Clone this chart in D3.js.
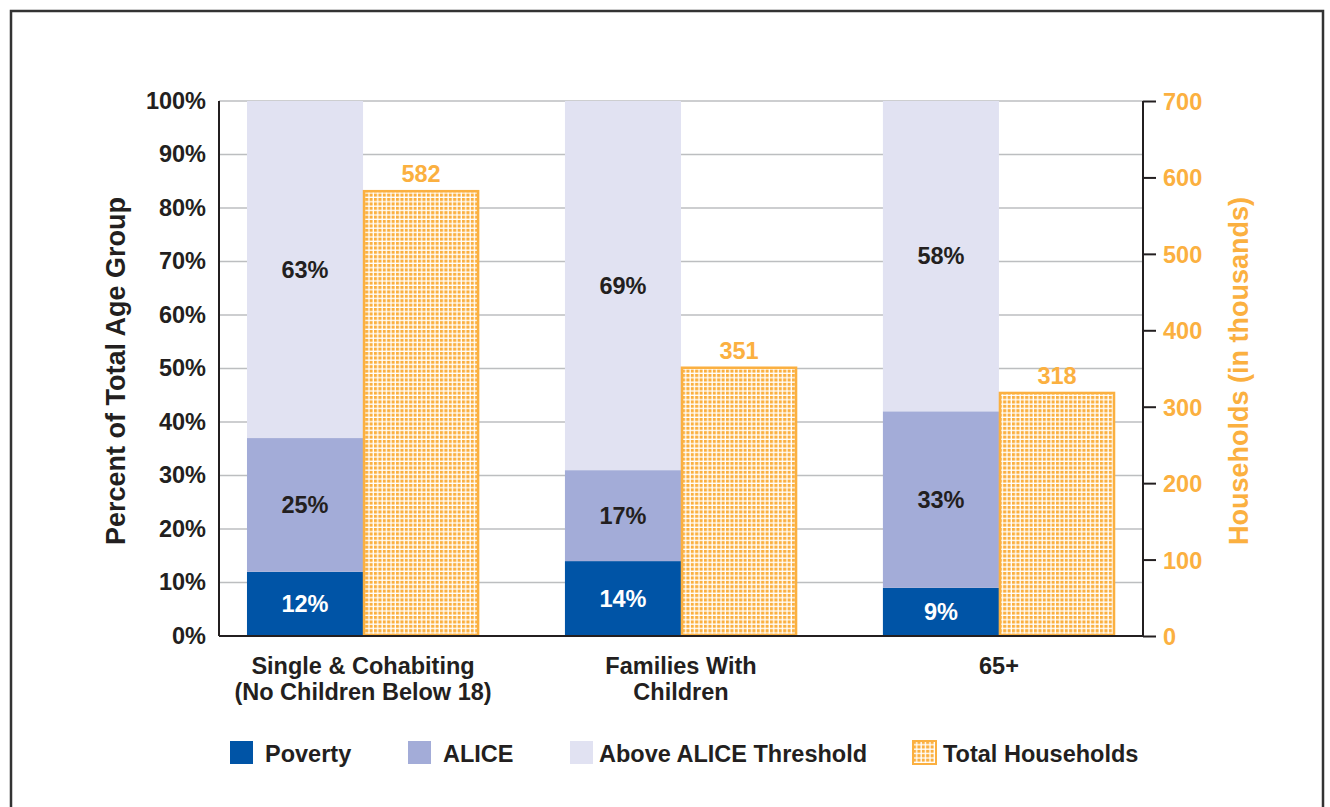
<!DOCTYPE html>
<html lang="en">
<head>
  <meta charset="UTF-8">
  <title>ALICE households by type</title>
  <script src="https://d3js.org/d3.v7.min.js"></script>
  <style>
    body { margin: 0; background: #fff; }
    text { font-family: "Liberation Sans", Arial, sans-serif; font-weight: bold; }
  </style>
</head>
<body>
  <svg width="1330" height="807"></svg>
<script>
// data
var groups = ["Single & Cohabiting|(No Children Below 18)", "Families With|Children", "65+"];
var poverty = [12, 14, 9];
var alice = [25, 17, 33];
var above = [63, 69, 58];
var totals = [582, 351, 318];
var pctTicks = [0, 10, 20, 30, 40, 50, 60, 70, 80, 90, 100];
var hhTicks = [0, 100, 200, 300, 400, 500, 600, 700];

var colors = { poverty: "#0054a6", alice: "#a3acd8", above: "#e1e2f2", orange: "#fbb040", ink: "#231f20" };
var fs = 23.5;

var svg = d3.select("svg");

// outer frame
svg.append("rect")
  .attr("x", 11).attr("y", 11).attr("width", 1312).attr("height", 810)
  .attr("fill", "none").attr("stroke", "#333").attr("stroke-width", 2.5);

// dotted pattern for total households
var defs = svg.append("defs");
var pat = defs.append("pattern").attr("id", "dots")
  .attr("patternUnits", "userSpaceOnUse").attr("width", 4.4).attr("height", 4.4);
pat.append("rect").attr("width", 4.4).attr("height", 4.4).attr("fill", "#fff");
pat.append("rect").attr("x", 0).attr("y", 0).attr("width", 3.1).attr("height", 3.1).attr("fill", colors.orange);

var pLeft = 219, pRight = 1143, pTop = 101, pBottom = 636;

var x = d3.scaleBand().domain(groups).range([pLeft, pRight]).paddingInner(0.27).paddingOuter(0.088);
var y = d3.scaleLinear().domain([0, 100]).range([pBottom, pTop]);
var y2 = d3.scaleLinear().domain([0, 700]).range([pBottom, pTop]);

// gridlines
svg.append("g").selectAll("line").data(pctTicks.slice(1)).join("line")
  .attr("x1", pLeft).attr("x2", pRight)
  .attr("y1", function(d) { return y(d); }).attr("y2", function(d) { return y(d); })
  .attr("stroke", "#bcbec0").attr("stroke-width", 1.5);

// stacked bars
var rows = groups.map(function(g, i) {
  return { group: g, poverty: poverty[i], alice: alice[i], above: above[i], total: totals[i] };
});
var keys = ["poverty", "alice", "above"];
var stack = d3.stack().keys(keys)(rows);
var half = x.bandwidth() / 2;

var layers = svg.append("g").selectAll("g").data(stack).join("g")
  .attr("fill", function(d) { return colors[d.key]; });
layers.selectAll("rect").data(function(d) { return d; }).join("rect")
  .attr("x", function(d) { return x(d.data.group); })
  .attr("width", half)
  .attr("y", function(d) { return y(d[1]); })
  .attr("height", function(d) { return y(d[0]) - y(d[1]); });

layers.selectAll("text").data(function(d) { return d.map(function(v) { v.key = d.key; return v; }); }).join("text")
  .attr("x", function(d) { return x(d.data.group) + half / 2; })
  .attr("y", function(d) { return y((d[0] + d[1]) / 2) + 8; })
  .attr("text-anchor", "middle")
  .attr("font-size", fs)
  .attr("fill", function(d) { return d.key === "poverty" ? "#fff" : colors.ink; })
  .text(function(d) { return d.data[d.key] + "%"; });

// total households bars
svg.append("g").selectAll("rect").data(rows).join("rect")
  .attr("x", function(d) { return x(d.group) + half + 1; })
  .attr("width", half - 2)
  .attr("y", function(d) { return y2(d.total); })
  .attr("height", function(d) { return pBottom - y2(d.total) - 1; })
  .attr("fill", "url(#dots)")
  .attr("stroke", colors.orange).attr("stroke-width", 2.5);

svg.append("g").selectAll("text").data(rows).join("text")
  .attr("x", function(d) { return x(d.group) + half * 1.5; })
  .attr("y", function(d) { return y2(d.total) - 9; })
  .attr("text-anchor", "middle").attr("font-size", fs).attr("fill", colors.orange)
  .text(function(d) { return d.total; });

// left axis
var axL = svg.append("g").attr("transform", "translate(" + pLeft + ",0)")
  .call(d3.axisLeft(y).tickValues(pctTicks).tickSize(0).tickPadding(13).tickFormat(function(d) { return d + "%"; }));
axL.select(".domain").attr("stroke", colors.ink).attr("stroke-width", 2).attr("d", "M0," + pTop + "V" + pBottom);
axL.selectAll("text").attr("font-size", fs).attr("fill", colors.ink).attr("dy", "0.3em");

// bottom axis line
svg.append("line").attr("x1", pLeft).attr("x2", pRight).attr("y1", pBottom).attr("y2", pBottom)
  .attr("stroke", colors.ink).attr("stroke-width", 2);

// right axis
var axR = svg.append("g").attr("transform", "translate(" + pRight + ",0)")
  .call(d3.axisRight(y2).tickValues(hhTicks).tickSize(13).tickPadding(7));
axR.select(".domain").attr("stroke", colors.ink).attr("stroke-width", 2).attr("d", "M0," + pTop + "V" + pBottom);
axR.selectAll(".tick line").attr("stroke", colors.ink).attr("stroke-width", 2);
axR.selectAll("text").attr("font-size", fs).attr("fill", colors.orange).attr("dy", "0.36em");

// category labels
svg.append("g").selectAll("text").data(groups).join("text")
  .attr("x", function(d) { return x(d) + x.bandwidth() / 2; })
  .attr("y", 674)
  .attr("text-anchor", "middle").attr("font-size", fs).attr("fill", colors.ink)
  .each(function(d) {
    var t = d3.select(this);
    d.split("|").forEach(function(line, i) {
      t.append("tspan").attr("x", x(d) + x.bandwidth() / 2).attr("dy", i ? 26 : 0).text(line);
    });
  });

// axis titles
svg.append("text")
  .attr("transform", "translate(125,371) rotate(-90)")
  .attr("text-anchor", "middle").attr("font-size", 27).attr("fill", colors.ink)
  .text("Percent of Total Age Group");
svg.append("text")
  .attr("transform", "translate(1248,371) rotate(-90)")
  .attr("text-anchor", "middle").attr("font-size", 27).attr("fill", colors.orange)
  .text("Households (in thousands)");

// legend
var legend = [
  { label: "Poverty", fill: colors.poverty, x: 230 },
  { label: "ALICE", fill: colors.alice, x: 408 },
  { label: "Above ALICE Threshold", fill: colors.above, x: 570 },
  { label: "Total Households", fill: "url(#dots)", x: 913 }
];
var lg = svg.append("g").selectAll("g").data(legend).join("g")
  .attr("transform", function(d) { return "translate(" + d.x + ",741)"; });
lg.append("rect").attr("width", 23).attr("height", 23)
  .attr("fill", function(d) { return d.fill; })
  .attr("stroke", function(d, i) { return i === 3 ? colors.orange : "none"; })
  .attr("stroke-width", 2);
lg.append("text").attr("x", function(d, i) { return i === 3 ? 30 : i === 2 ? 29 : 35; })
  .attr("y", 21).attr("font-size", fs).attr("fill", colors.ink)
  .text(function(d) { return d.label; });
</script>
</body>
</html>
